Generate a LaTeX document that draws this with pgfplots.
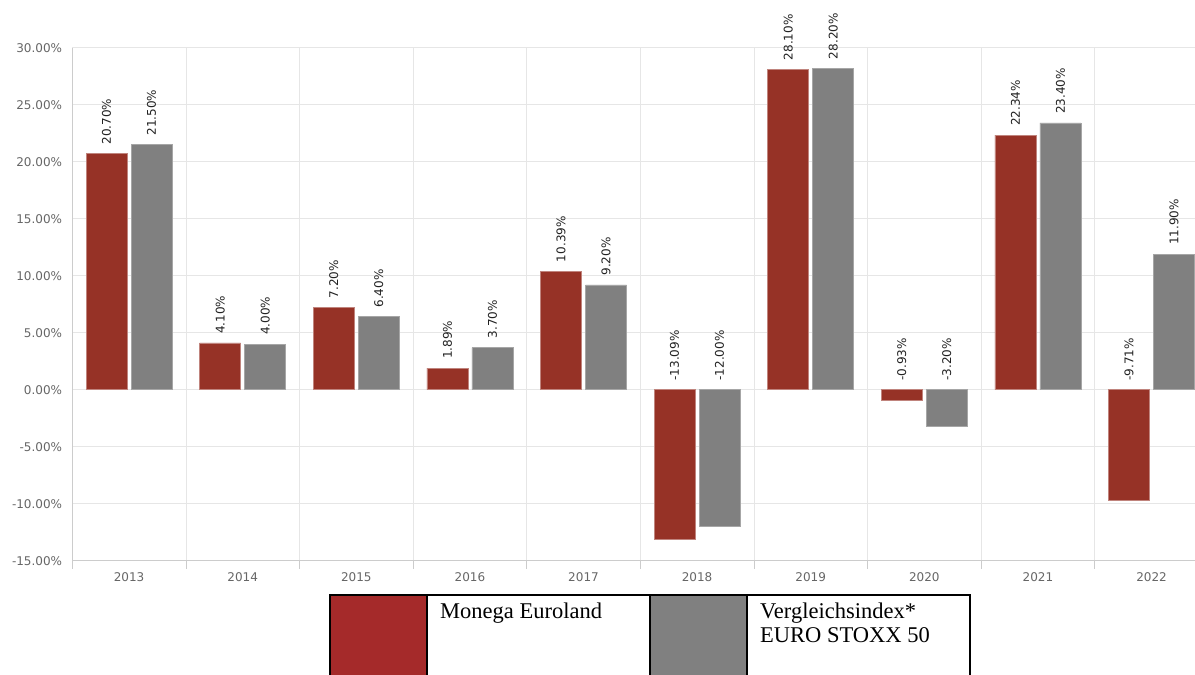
\documentclass[border=0pt]{standalone}
\usepackage{fontspec}
\setmainfont{DejaVu Sans}
\newfontfamily\legfont{Liberation Serif}
\usepackage{pgfplots}
\pgfplotsset{compat=1.18}
\usepackage{pgfplotstable}
\definecolor{barred}{HTML}{963226}
\definecolor{bargray}{HTML}{808080}
\definecolor{legred}{HTML}{A52A2A}
\definecolor{gridc}{HTML}{E6E6E6}
\definecolor{axc}{HTML}{CCCCCC}
\definecolor{tickc}{HTML}{666666}
\definecolor{labc}{HTML}{222222}

\pgfplotstableread{
x a b
0 20.70 21.50
1 4.10 4.00
2 7.20 6.40
3 1.89 3.70
4 10.39 9.20
5 -13.09 -12.00
6 28.10 28.20
7 -0.93 -3.20
8 22.34 23.40
9 -9.71 11.90
}\data

\begin{document}
\begin{tikzpicture}[x=1pt,y=1pt]
\useasboundingbox (0,0) rectangle (1195,675);
\begin{axis}[
  at={(72.3pt,114.3pt)}, anchor=south west,
  scale only axis, width=1136pt, height=513pt,
  xmin=-0.5, xmax=9.5, ymin=-15, ymax=30,
  axis lines*=left,
  axis line style={draw=axc, line width=0.8pt},
  xtick={0,...,9},
  xticklabels={2013,2014,2015,2016,2017,2018,2019,2020,2021,2022},
  major x tick style={draw=none},
  minor xtick={-0.5,0.5,...,9.5},
  xminorgrids, minor grid style={draw=gridc, line width=0.8pt},
  minor x tick style={draw=axc, line width=0.8pt},
  minor tick length=8pt, tick align=outside,
  ytick={-15,-10,...,30}, ymajorgrids,
  major grid style={draw=gridc, line width=0.8pt},
  major y tick style={draw=none}, major tick length=0pt,
  yticklabel={\pgfmathprintnumber[fixed,fixed zerofill,precision=2,assume math mode=true]{\tick}\%},
  yticklabel style={font=\fontsize{12}{14}\selectfont, text=tickc, anchor=east, inner sep=0pt, xshift=-10pt},
  xticklabel style={font=\fontsize{12}{14}\selectfont, text=tickc, anchor=north, inner sep=0pt, yshift=-12pt},
  /pgf/number format/assume math mode=true,
  clip=false,
]
\addplot[ybar, bar width=41pt, bar shift=-22.5pt, fill=barred, draw=barred!60!white, line width=0.6pt] table[x=x,y=a]{\data};
\addplot[ybar, bar width=41pt, bar shift=22.5pt, fill=bargray, draw=bargray!70!white, line width=0.6pt] table[x=x,y=b]{\data};
\addplot[ybar, bar width=41pt, bar shift=0pt, draw=none, fill=none, point meta=\thisrow{a},
  nodes near coords={\pgfmathprintnumber[fixed,fixed zerofill,precision=2,assume math mode=true]{\pgfplotspointmeta}\%},
  every node near coord/.append style={rotate=90, anchor=west, inner ysep=0pt, inner xsep=9pt, font=\fontsize{12}{14}\selectfont, text=labc}]
  table[x expr={\thisrow{x}-0.198}, y expr={max(\thisrow{a},0)}]{\data};
\addplot[ybar, bar width=41pt, bar shift=0pt, draw=none, fill=none, point meta=\thisrow{b},
  nodes near coords={\pgfmathprintnumber[fixed,fixed zerofill,precision=2,assume math mode=true]{\pgfplotspointmeta}\%},
  every node near coord/.append style={rotate=90, anchor=west, inner ysep=0pt, inner xsep=9pt, font=\fontsize{12}{14}\selectfont, text=labc}]
  table[x expr={\thisrow{x}+0.198}, y expr={max(\thisrow{b},0)}]{\data};
\end{axis}
% legend table
\fill[legred] (330,-5) rectangle (427,80);
\fill[bargray] (650,-5) rectangle (747,80);
\draw[line width=2.5pt] (330,-5) rectangle (970,80);
\draw[line width=2.5pt] (427,-5) -- (427,80);
\draw[line width=2.5pt] (650,-5) -- (650,80);
\draw[line width=2.5pt] (747,-5) -- (747,80);
\node[anchor=base west, inner sep=0pt, font=\legfont\fontsize{22.5}{24}\selectfont] at (440,56) {Monega Euroland};
\node[anchor=base west, inner sep=0pt, font=\legfont\fontsize{22.5}{24}\selectfont] at (760,56) {Vergleichsindex*};
\node[anchor=base west, inner sep=0pt, font=\legfont\fontsize{22.5}{24}\selectfont] at (760,32) {EURO STOXX 50};
\end{tikzpicture}
\end{document}
